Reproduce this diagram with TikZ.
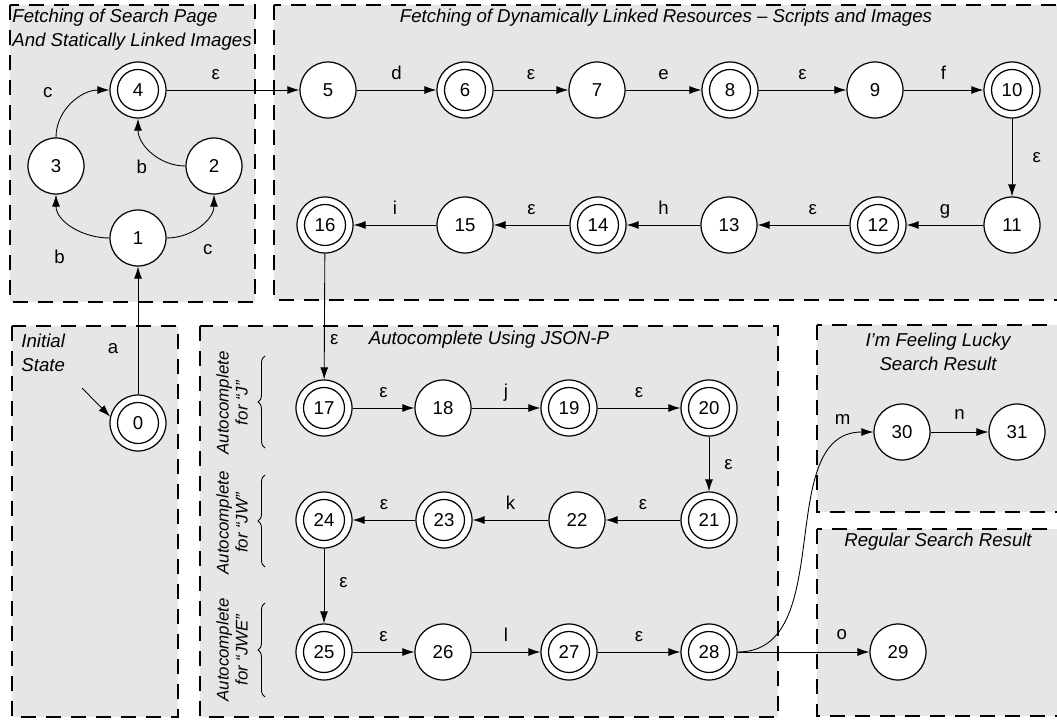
\documentclass[tikz,border=0pt]{standalone}
\usepackage{fontspec}
\setmainfont{Liberation Sans}
\usetikzlibrary{arrows.meta,decorations.pathreplacing}

\definecolor{boxgray}{RGB}{230,230,230}

\tikzset{
  region/.style={draw, fill=boxgray, line width=1.1pt, dash pattern=on 3mm off 2mm},
  st/.style={circle, draw, fill=white, line width=.7pt, minimum size=1.12cm, inner sep=0pt},
  acc/.style={st, path picture={\draw[line width=.7pt] (path picture bounding box.center) circle[radius=.41cm];}},
  title/.style={font=\itshape\fontsize{10.6}{13.6}\selectfont, inner sep=0pt},
  sub/.style={font=\itshape\fontsize{9.6}{10.8}\selectfont, inner sep=0pt, rotate=90, align=center},
  lbl/.style={inner sep=1pt, text depth=0pt},
  brc/.style={decorate, decoration={brace, amplitude=4pt}, line width=.5pt},
}

\begin{document}
\begin{tikzpicture}[>={Latex[length=2.4mm,width=1.6mm]}, line width=.5pt, font=\fontsize{10.6}{12.7}\selectfont]
  \useasboundingbox (0,0) rectangle (21.14,-14.38);

  % regions
  \path[region] (0.20,-0.10) rectangle (5.10,-6.04);
  \path[region] (5.48,-0.10) rectangle (21.40,-6.00);
  \path[region] (0.24,-6.52) rectangle (3.56,-14.34);
  \path[region] (4.00,-6.52) rectangle (15.56,-14.34);
  \path[region] (16.34,-6.50) rectangle (21.40,-10.24);
  \path[region] (16.34,-10.58) rectangle (21.40,-14.32);

  \node[title, anchor=west, align=left] (tfetch) at (0.24,-0.60) {Fetching of Search Page\\And Statically Linked Images};
  \node[title] (tdyn) at (13.32,-0.36) {Fetching of Dynamically Linked Resources – Scripts and Images};
  \node[title, anchor=west, align=left] (tinit) at (0.42,-7.06) {Initial\\State};
  \node[title] (tauto) at (9.78,-6.80) {Autocomplete Using JSON-P};
  \node[title, align=center] (tlucky) at (18.76,-7.03) {I'm Feeling Lucky\\Search Result};
  \node[title] (tregular) at (18.76,-10.84) {Regular Search Result};

  % autocomplete steps
  \node[sub] (sj)   at (4.64,-8.06)  {Autocomplete\\for “J”};
  \node[sub] (sjw)  at (4.64,-10.46) {Autocomplete\\for “JW”};
  \node[sub] (sjwe) at (4.64,-13.00) {Autocomplete\\for “JWE”};
  \draw[brc] (5.30,-8.96)  -- (5.30,-7.12);
  \draw[brc] (5.30,-11.34) -- (5.30,-9.50);
  \draw[brc] (5.30,-13.94) -- (5.30,-12.06);

  \begin{scope}[every node/.style={st}]
    \node[acc] (0)  at (2.76,-8.46)  {0};
    \node      (1)  at (2.76,-4.76)  {1};
    \node      (2)  at (4.28,-3.32)  {2};
    \node      (3)  at (1.12,-3.32)  {3};
    \node[acc] (4)  at (2.76,-1.80)  {4};
    \node      (5)  at (6.56,-1.80)  {5};
    \node[acc] (6)  at (9.30,-1.80)  {6};
    \node      (7)  at (11.94,-1.80) {7};
    \node[acc] (8)  at (14.60,-1.80) {8};
    \node      (9)  at (17.50,-1.80) {9};
    \node[acc] (10) at (20.24,-1.80) {10};
    \node      (11) at (20.24,-4.50) {11};
    \node[acc] (12) at (17.56,-4.50) {12};
    \node      (13) at (14.58,-4.50) {13};
    \node[acc] (14) at (11.96,-4.50) {14};
    \node      (15) at (9.30,-4.50)  {15};
    \node[acc] (16) at (6.50,-4.50)  {16};
    \node[acc] (17) at (6.48,-8.16)  {17};
    \node      (18) at (8.86,-8.16)  {18};
    \node[acc] (19) at (11.38,-8.16) {19};
    \node[acc] (20) at (14.18,-8.16) {20};
    \node[acc] (21) at (14.18,-10.40) {21};
    \node      (22) at (11.54,-10.40) {22};
    \node[acc] (23) at (8.88,-10.40) {23};
    \node[acc] (24) at (6.48,-10.40) {24};
    \node[acc] (25) at (6.48,-13.04) {25};
    \node      (26) at (8.86,-13.04) {26};
    \node[acc] (27) at (11.38,-13.04) {27};
    \node[acc] (28) at (14.18,-13.04) {28};
    \node      (29) at (17.96,-13.04) {29};
    \node      (30) at (18.04,-8.64) {30};
    \node      (31) at (20.34,-8.64) {31};
  \end{scope}

  \coordinate (init) at (1.64,-7.76);
  \draw[->] (init) -- (0.167);

  \begin{scope}[every node/.style={lbl}]

    \begin{scope}[every edge/.style={draw,->}]
      % first box
      \path (0)  edge node[left=10pt, pos=.36] {a} (1);
      \path (1)  edge[out=180, in=-90] node[xshift=-.26cm, yshift=-.60cm] {b} (3);
      \path (1)  edge[out=0, in=-90]   node[xshift=.16cm, yshift=-.48cm]  {c} (2);
      \path (3)  edge[out=90, in=180]  node[xshift=-.49cm, yshift=.21cm]  {c} (4);
      \path (2)  edge[out=180, in=-90] node[xshift=-.20cm, yshift=-.30cm] {b} (4);
      % dynamically linked resources
      \path (4)  edge node[above=5pt, pos=.37] {ε} (5);
      \path (5)  edge node[above=5pt] {d} (6);
      \path (6)  edge node[above=5pt] {ε} (7);
      \path (7)  edge node[above=5pt] {e} (8);
      \path (8)  edge node[above=5pt] {ε} (9);
      \path (9)  edge node[above=5pt] {f} (10);
      \path (10) edge node[right=10.5pt] {ε} (11);
      \path (11) edge node[above=5pt] {g} (12);
      \path (12) edge node[above=5pt, pos=.4] {ε} (13);
      \path (13) edge node[above=5pt] {h} (14);
      \path (14) edge node[above=5pt] {ε} (15);
      \path (15) edge node[above=5pt] {i} (16);
      \path (16) edge node[right=2pt, pos=.68] {ε} (17);
      % autocomplete
      \path (17) edge node[above=5pt] {ε} (18);
      \path (18) edge node[above=5pt] {j} (19);
      \path (19) edge node[above=5pt] {ε} (20);
      \path (20) edge node[right=7.5pt] {ε} (21);
      \path (21) edge node[above=5pt] {ε} (22);
      \path (22) edge node[above=5pt] {k} (23);
      \path (23) edge node[above=5pt] {ε} (24);
      \path (24) edge node[right=7.5pt, pos=.45] {ε} (25);
      \path (25) edge node[above=5pt] {ε} (26);
      \path (26) edge node[above=5pt] {l} (27);
      \path (27) edge node[above=5pt] {ε} (28);
      % results
      \path (28) edge node[above=6pt, pos=.79] {o} (29);
      \path (28) edge[out=0, in=180] node[pos=.85, xshift=.09cm, yshift=.51cm] {m} (30);
      \path (30) edge node[above=6pt] {n} (31);
    \end{scope}
  \end{scope}

\end{tikzpicture}
\end{document}
